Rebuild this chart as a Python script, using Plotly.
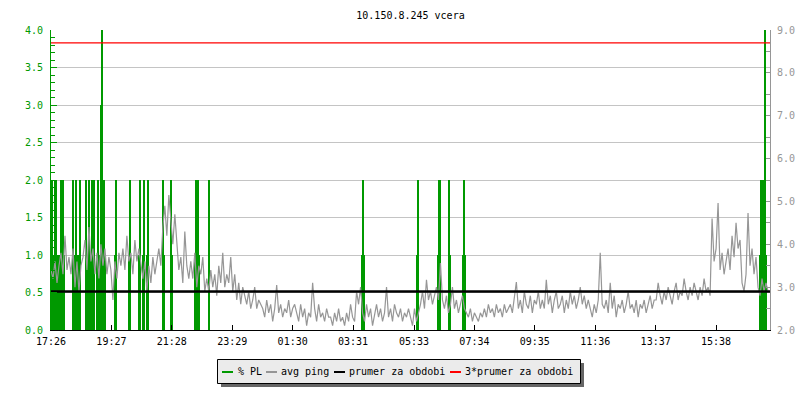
import plotly.graph_objects as go

# ---------------- data ----------------
title_text = "10.150.8.245 vcera"

# x axis: minutes since 17:26 (24 h window)
x_range = [0, 1440]
tick_minutes = [0, 121, 242, 363, 484, 605, 727, 848, 969, 1090, 1211, 1332]
tick_labels = ["17:26", "19:27", "21:28", "23:29", "01:30", "03:31",
               "05:33", "07:34", "09:35", "11:36", "13:37", "15:38"]

# % PL (left axis) - time of sample (minutes) and value
pl_time = [0, 2, 4, 6, 8, 10, 12, 14,
           19, 21, 25, 27,
           44, 46, 48, 50, 52, 56, 58,
           70, 72, 74, 76, 78, 82, 84, 86,
           92, 95, 96, 98, 100, 102, 104, 107, 109,
           128, 130, 157, 159, 177, 179, 184, 187, 192, 195,
           224, 226, 240, 242,
           288, 290, 292, 294, 296, 316,
           622, 624, 626, 734, 736,
           775, 777, 779, 797, 799, 826, 828, 830,
           1420, 1422, 1424, 1426, 1428, 1430, 1432]
pl_value = [2, 2, 1, 1, 2, 2, 1, 1,
            1, 2, 2, 1,
            2, 1, 1, 2, 1, 1, 2,
            2, 1, 1, 2, 1, 2, 1, 2,
            1, 2, 1, 1, 3, 4, 1, 2, 1,
            1, 2, 1, 2, 1, 2, 1, 2, 1, 2,
            2, 1, 2, 1,
            1, 2, 2, 2, 1, 2,
            1, 2, 1, 1, 2,
            1, 2, 2, 2, 1, 1, 2, 1,
            1, 2, 2, 2, 2, 4, 1]

# avg ping (right axis), one sample every 4 minutes from 17:26
ping_step_min = 4
avg_ping = [
    3.4, 3.2, 3.6, 3.1, 3.5,
    3.8, 3.3, 4.2, 3.4, 3.7,
    3.3, 3.9, 3.0, 3.6, 2.9, 3.5,
    3.7, 4.1, 3.4, 4.4, 3.6, 3.9, 3.3,
    3.8, 3.2, 4.0, 3.5, 3.9, 3.3, 3.7,
    3.4, 2.7, 3.6, 3.2, 3.8, 3.5,
    3.9, 3.4, 4.2, 3.6, 3.8, 3.3, 4.1, 3.6, 3.9, 3.5,
    3.2, 3.6, 2.9, 3.5, 3.1, 3.7, 3.3,
    3.6, 3.9, 3.5,
    4.4, 4.9, 4.2, 5.15, 4.6, 4.0, 4.7,
    3.9, 3.4, 3.7, 3.1, 4.3, 3.5, 3.2,
    3.6, 3.2, 3.8, 3.0, 3.5, 3.3, 3.7, 2.9,
    3.2, 2.9, 3.4, 3.0, 3.3, 2.8, 3.5, 3.1, 3.8, 3.0, 3.3, 3.1,
    3.7,
    2.9, 3.3, 2.7, 3.1, 2.6, 3.0, 2.8,
    2.6, 2.9, 2.5, 2.7, 3.0, 2.5, 2.7, 2.6,
    2.5, 2.3, 2.7, 2.4, 2.6, 2.2, 2.5, 3.05, 2.4, 2.6, 2.3, 2.5, 2.4, 2.7, 2.3, 2.5, 2.6,
    2.4, 2.2, 2.6, 2.3, 2.5, 2.1, 2.4, 2.3, 3.1, 2.5, 2.2, 2.6, 2.3, 2.4, 2.2, 2.5, 2.3,
    2.3, 2.1, 2.4, 2.2, 2.5, 2.2, 2.3, 2.1, 2.4, 2.2, 2.6, 2.3, 2.2,
    2.9, 2.6, 3.0,
    2.4, 2.2, 2.6, 2.3, 2.5, 2.1, 2.4, 2.6, 2.3, 2.5, 2.2, 2.4, 3.0, 2.3, 2.5, 2.2,
    2.6, 2.4, 2.3, 2.5, 2.2, 2.4, 2.3, 2.5,
    2.3, 2.1, 2.5, 2.2, 2.4,
    2.6, 2.9, 2.5, 3.17, 2.7, 2.9, 2.6, 2.8, 3.0, 2.7, 3.56,
    2.7, 2.5, 2.8, 2.4, 2.6, 3.0, 2.5, 2.7, 2.4, 2.6, 2.8, 2.5,
    2.4, 2.3, 2.5, 2.2, 2.4, 2.3, 2.2, 2.4, 2.3, 2.5, 2.3, 2.6, 2.4, 2.5, 2.3, 2.6,
    2.4, 2.5, 2.3, 2.6, 2.4, 2.5,
    2.6, 2.4, 2.8, 3.12, 2.5, 2.7, 2.4, 2.9, 2.6, 2.5, 2.8, 2.4, 2.7, 2.6, 2.9, 2.5,
    2.7, 2.5, 3.17, 2.6, 2.8, 2.4, 2.7, 2.9, 2.5, 2.6, 2.8, 2.4, 2.7, 2.5, 2.9, 2.6,
    2.8, 2.5, 2.7, 3.0, 2.6, 2.8, 2.5, 2.7,
    2.5, 2.3, 2.6, 2.4, 2.7,
    3.8, 2.6,
    2.5, 2.7, 2.4, 3.1, 2.5, 2.8, 2.3, 2.6, 2.5, 2.7, 2.4, 2.6, 2.9, 2.5, 2.6, 2.4,
    2.7, 2.3, 2.6, 2.5, 2.7, 2.4, 2.6, 2.8, 2.5, 2.7,
    2.7, 3.1, 2.8, 2.6, 2.9, 2.7, 3.0, 2.8, 2.6, 2.9, 3.1, 2.7, 2.9, 2.8, 3.2, 2.9,
    2.7, 3.0, 2.8, 3.1, 2.9, 2.7, 3.0, 2.8, 3.2, 2.9, 3.0, 2.8,
    4.6, 3.6,
    3.9, 4.96, 3.4, 3.8, 3.3, 3.6, 3.9, 3.4,
    4.2, 3.7, 4.5, 3.9, 4.1,
    3.1, 2.9, 3.3,
    4.73, 3.5, 3.9, 3.3, 3.7,
    3.0, 2.8, 3.2, 2.9, 3.1, 2.9,
]
ping_time = [i * ping_step_min for i in range(len(avg_ping))]

prumer_za_obdobi = 2.9
triple_prumer = 3 * prumer_za_obdobi

# ---------------- style ----------------
GREEN = "#009900"
GRAY = "#969696"
FONT = "DejaVu Sans Mono"
W, H = 800, 400
L, R, T, B = 51, 30, 30, 70
PW, PH = W - L - R, H - T - B


def px_x(px):
    return (px - L) / PW


def px_y(py):
    return (H - B - py) / PH


fig = go.Figure()

fig.add_trace(go.Bar(x=pl_time, y=pl_value, width=2.0, marker=dict(color=GREEN, line=dict(width=0)),
                     name="% PL", yaxis="y"))
fig.add_trace(go.Scatter(x=ping_time, y=avg_ping, mode="lines", line=dict(color=GRAY, width=1.2),
                         name="avg ping", yaxis="y2"))
fig.add_trace(go.Scatter(x=x_range, y=[prumer_za_obdobi] * 2, mode="lines",
                         line=dict(color="black", width=2.5), name="prumer za obdobi", yaxis="y2"))
fig.add_trace(go.Scatter(x=x_range, y=[triple_prumer] * 2, mode="lines",
                         line=dict(color="red", width=1.3), name="3*prumer za obdobi", yaxis="y2"))

# manual legend (box with shadow)
shapes = [
    dict(type="rect", xref="paper", yref="paper", x0=px_x(221), x1=px_x(584), y0=px_y(363), y1=px_y(387),
         fillcolor="#666666", line=dict(width=0), layer="above"),
    dict(type="rect", xref="paper", yref="paper", x0=px_x(217.5), x1=px_x(580.5), y0=px_y(359.5), y1=px_y(383.5),
         fillcolor="#ebebeb", line=dict(color="black", width=1), layer="above"),
]
legend_items = [("% PL", GREEN, 222, 237), ("avg ping", GRAY, 266, 280),
                ("prumer za obdobi", "black", 334, 348), ("3*prumer za obdobi", "red", 450, 464)]
annotations = []
for label, col, lx, tx in legend_items:
    shapes.append(dict(type="line", xref="paper", yref="paper", x0=px_x(lx), x1=px_x(lx + 11),
                       y0=px_y(372), y1=px_y(372), line=dict(color=col, width=2), layer="above"))
    annotations.append(dict(text=label, xref="paper", yref="paper", x=px_x(tx), y=px_y(371),
                            xanchor="left", yanchor="middle", showarrow=False,
                            font=dict(family=FONT, size=10, color="black"), borderpad=0))

fig.update_layout(
    width=W, height=H, autosize=False,
    margin=dict(l=L, r=R, t=T, b=B, pad=0, autoexpand=False),
    paper_bgcolor="white", plot_bgcolor="white",
    showlegend=False,
    bargap=0,
    title=dict(text=title_text, x=0.5, xref="paper", xanchor="center", y=1 - 15 / H, yref="container",
               yanchor="middle", automargin=False, font=dict(family=FONT, size=10, color="black")),
    font=dict(family=FONT, size=10),
    xaxis=dict(range=x_range, tickvals=tick_minutes, ticktext=tick_labels, ticks="inside", ticklen=5,
               tickcolor="black", showline=True, linecolor="black", linewidth=1, showgrid=False,
               zeroline=False, automargin=False, ticklabelstandoff=2,
               tickfont=dict(family=FONT, size=10, color="black")),
    yaxis=dict(range=[0, 4], dtick=0.5, tick0=0, tickformat=".1f", ticks="inside", ticklen=6,
               tickcolor=GREEN, showline=True, linecolor=GREEN, linewidth=1, showgrid=True,
               gridcolor="#c4c4c4", gridwidth=1, zeroline=False, automargin=False, ticklabelstandoff=5,
               tickfont=dict(family=FONT, size=10, color=GREEN),
               minor=dict(dtick=0.1, ticks="inside", ticklen=4, tickcolor=GREEN, showgrid=False)),
    yaxis2=dict(range=[2, 9], dtick=1, tick0=2, tickformat=".1f", overlaying="y", side="right",
                ticks="inside", ticklen=4, tickcolor=GRAY, showline=True, linecolor=GRAY, linewidth=1,
                showgrid=False, zeroline=False, automargin=False, ticklabelstandoff=4,
                tickfont=dict(family=FONT, size=10, color=GRAY),
                minor=dict(dtick=0.5, ticks="inside", ticklen=4, tickcolor=GRAY, showgrid=False)),
    shapes=shapes,
    annotations=annotations,
)

fig.write_html("out.html", config={"displayModeBar": False},
               post_script="document.body.style.margin='0';document.body.style.padding='0';")
